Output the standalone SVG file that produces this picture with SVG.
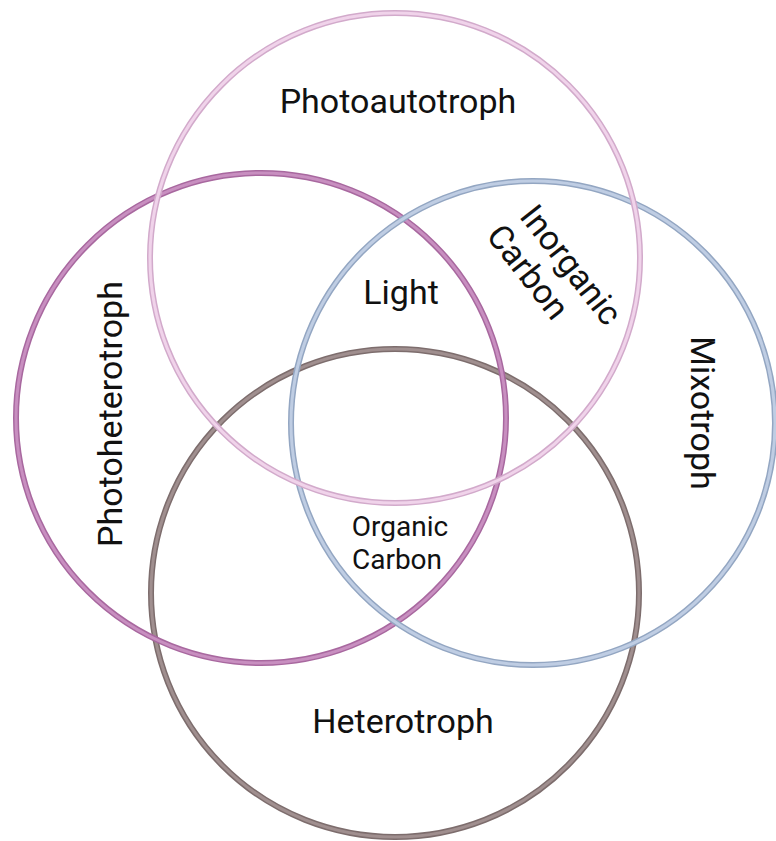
<svg xmlns="http://www.w3.org/2000/svg" width="776" height="841" viewBox="0 0 776 841">
<style>
.o{fill:none;stroke-width:6}
.i{fill:none;stroke-width:3}
text{font-family:Roboto,"Liberation Sans",sans-serif;fill:#111;text-anchor:middle}
.big{font-size:34px}
.sm{font-size:28px}
</style>
<rect width="776" height="841" fill="#fff"/>
<g id="heterotroph">
<circle class="o" cx="395" cy="593" r="244" stroke="#7d6d6d"/>
<circle class="i" cx="395" cy="593" r="244" stroke="#a08f8f"/>
<text class="big" x="403" y="733">Heterotroph</text>
</g>
<g id="photoheterotroph">
<circle class="o" cx="261" cy="418" r="245" stroke="#a8689f"/>
<circle class="i" cx="261" cy="418" r="245" stroke="#c88fc0"/>
<text class="big" transform="translate(122,414) rotate(-90)">Photoheterotroph</text>
</g>
<g id="mixotroph">
<circle class="o" cx="533" cy="423" r="242" stroke="#93a6c2"/>
<circle class="i" cx="533" cy="423" r="242" stroke="#bfcde3"/>
<text class="big" transform="translate(691,413) rotate(90)">Mixotroph</text>
</g>
<g id="photoautotroph">
<circle class="o" cx="395" cy="258" r="245" stroke="#d2aacb"/>
<circle class="i" cx="395" cy="258" r="245" stroke="#f0d3ea"/>
<text class="big" x="398" y="113">Photoautotroph</text>
</g>
<g id="labels">
<text class="big" transform="translate(401,304)">Light</text>
<text class="sm" x="400" y="536">Organic</text>
<text class="sm" x="397" y="569">Carbon</text>
<text class="big" transform="translate(562,272) rotate(52)">Inorganic</text>
<text class="big" transform="translate(519,279) rotate(52)">Carbon</text>
</g>
</svg>
